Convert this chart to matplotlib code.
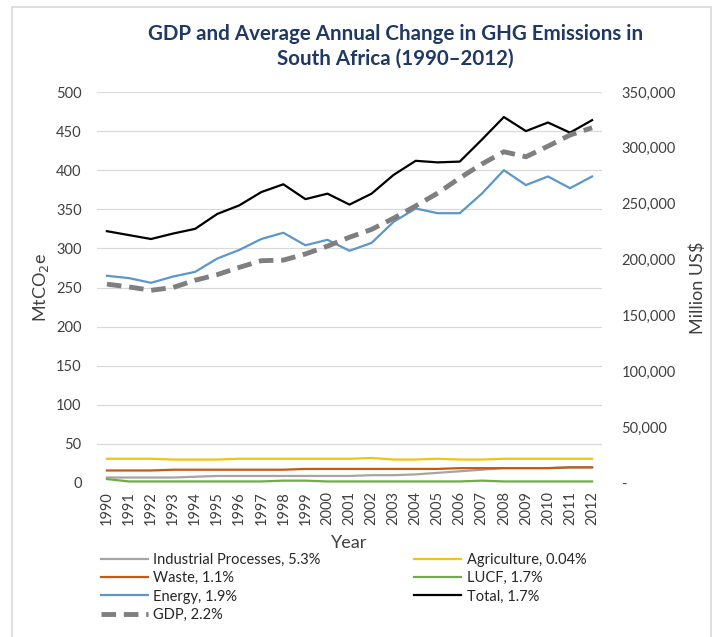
import numpy as np
import matplotlib
matplotlib.use("Agg")
from matplotlib import pyplot as plt
from matplotlib.patches import Rectangle
from matplotlib.ticker import FuncFormatter

plt.rcParams['font.family'] = ['Lato', 'DejaVu Sans']

years = list(range(1990, 2013))

# MtCO2e (left axis)
industrial = [7, 7, 7, 7, 8, 9, 9, 9, 9, 9, 9, 9, 10, 10, 11, 13, 15, 17, 19, 19, 19, 20, 20]
agriculture = [31, 31, 31, 30, 30, 30, 31, 31, 31, 31, 31, 31, 32, 30, 30, 31, 30, 30, 31, 31, 31, 31, 31]
waste = [16, 16, 16, 17, 17, 17, 17, 17, 17, 18, 18, 18, 18, 18, 18, 18, 19, 19, 19, 19, 19, 20, 20]
lucf = [5, 2, 2, 2, 2, 2, 2, 2, 3, 3, 2, 2, 2, 2, 2, 2, 2, 3, 2, 2, 2, 2, 2]
energy = [265, 262, 256, 264, 270, 287, 298, 312, 320, 304, 311, 297, 307, 334, 351, 345, 345, 370, 400, 381, 392, 377, 392]
total = [322, 317, 312, 319, 325, 344, 355, 372, 382, 363, 370, 356, 370, 394, 412, 410, 411, 439, 468, 450, 461, 448, 464]

# Million US$ (right axis)
gdp = [178000, 175500, 172500, 175000, 181500, 186500, 193000, 199000, 199500, 205000, 212000, 220000, 227000, 237000,
       248000, 259500, 273000, 285500, 296500, 292000, 301500, 311500, 318000]

fig = plt.figure(figsize=(7.16, 6.37), dpi=100)

# thin frame around the chart area, open at the bottom
fig.patches.append(Rectangle((12 / 716, -0.05), (711 - 12) / 716, 1.05 - 7 / 637, transform=fig.transFigure,
                             fill=False, edgecolor='#D9D9D9', lw=1.2))

ax = fig.add_axes([97 / 716, 1 - 483 / 637, (602 - 97) / 716, (483 - 92) / 637])
ax2 = ax.twinx()

h_ind, = ax.plot(years, industrial, color='#A5A5A5', lw=1.6)
h_agr, = ax.plot(years, agriculture, color='#F2C314', lw=1.6)
h_wst, = ax.plot(years, waste, color='#C55A11', lw=1.6)
h_luc, = ax.plot(years, lucf, color='#70AD47', lw=1.6)
h_eng, = ax.plot(years, energy, color='#5B97C9', lw=1.6)
h_tot, = ax.plot(years, total, color='black', lw=1.6)
h_gdp, = ax2.plot(years, gdp, color='#7F7F7F', lw=3.5, dashes=(3, 1.6))

ax.set_ylim(0, 500)
ax.set_yticks(range(0, 501, 50))
ax2.set_ylim(0, 350000)
ax2.set_yticks(range(0, 350001, 50000))
ax2.yaxis.set_major_formatter(FuncFormatter(lambda v, p: '-' if v == 0 else f'{int(v):,}'))
ax.set_xlim(1989.55, 2012.45)
ax.set_xticks(years)
ax.set_xticklabels([str(y) for y in years], rotation=90)

ax.grid(axis='y', color='#D9D9D9', lw=0.9)
ax.set_axisbelow(True)
for a in (ax, ax2):
    for s in a.spines.values():
        s.set_visible(False)
    a.tick_params(length=0, colors='#404040', labelsize=10.5)
ax.tick_params(axis='y', pad=11)
ax.tick_params(axis='x', pad=6)
ax2.tick_params(axis='y', pad=14)

ax.set_ylabel('MtCO$_2$e', fontsize=13, color='#404040', labelpad=4)
ax2.set_ylabel('Million US$', fontsize=13, color='#404040', labelpad=10)
ax.set_xlabel('Year', fontsize=13, color='#404040', labelpad=7)

fig.suptitle('GDP and Average Annual Change in GHG Emissions in\nSouth Africa (1990\u20132012)',
             x=0.552, y=0.962, fontsize=14.8, fontweight='bold', color='#1F3864', linespacing=1.25)

handles = [h_ind, h_wst, h_eng, h_gdp, h_agr, h_luc, h_tot]
labels = ['Industrial Processes, 5.3%', 'Waste, 1.1%', 'Energy, 1.9%', 'GDP, 2.2%',
          'Agriculture, 0.04%', 'LUCF, 1.7%', 'Total, 1.7%']
fig.legend(handles, labels, ncol=2, loc='upper left', bbox_to_anchor=(95 / 716, 1 - 547 / 637),
           frameon=False, fontsize=10.5, handlelength=3.2, handletextpad=0.4,
           columnspacing=6.4, labelspacing=0.3, borderaxespad=0, labelcolor='#262626')

fig.savefig('out.png', dpi=100)
